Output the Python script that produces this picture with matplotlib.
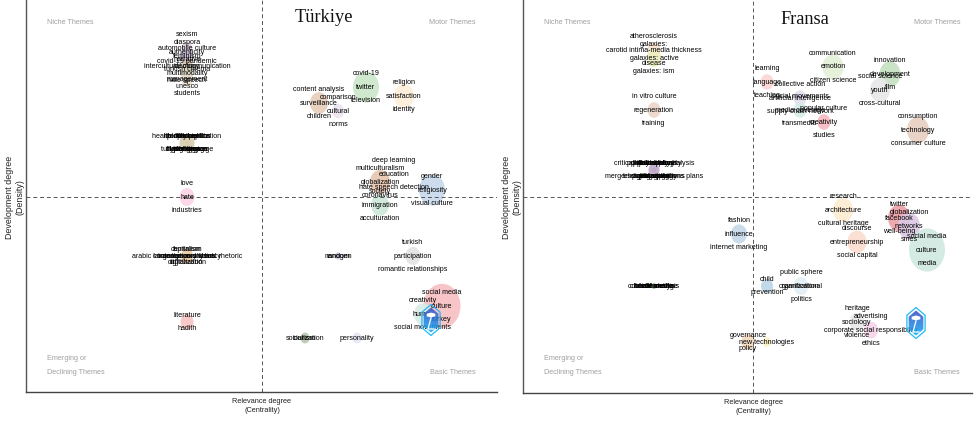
import numpy as np
import matplotlib
matplotlib.use('agg')
import matplotlib.pyplot as plt
from matplotlib.colors import LinearSegmentedColormap
from matplotlib.patches import Ellipse, Polygon

W, H = 975, 421
plt.rcParams['font.family'] = ['Liberation Sans', 'DejaVu Sans']

# Turkiye panel: one entry per cluster
tr_x = [187, 187, 187, 187, 187,
        187, 187, 187, 187, 187, 187,
        187, 187, 187, 187, 187, 187, 187, 187,
        366, 404, 319, 338, 380, 394, 380, 432,
        413, 338, 338, 442, 423, 305, 305, 357]
tr_y = [48, 56, 66, 73, 80,
        143, 143, 143, 143, 143, 143,
        197, 322, 256, 256, 256, 256, 256, 256,
        87, 96, 103, 111, 182, 174, 205, 190,
        256, 256, 256, 306, 314, 338, 338, 338]
tr_w = [10, 13, 12, 13, 11,
        15, 3, 3, 3, 3, 3,
        15, 13, 12, 3, 3, 3, 3, 3,
        26, 20, 18, 12, 20, 3, 18, 26,
        15, 6, 3, 37, 18, 9, 3, 9]
tr_color = ['#d9cbd8', '#cdbfd8', '#d8c6b4', '#ded8c0', '#e6dccb',
            '#d8ccb0', '#d8ccb0', '#d8ccb0', '#d8ccb0', '#d8ccb0', '#d8ccb0',
            '#fbd3e6', '#f7c4c4', '#e8c9a0', '#d9b98f', '#d9b98f', '#d9b98f', '#d9b98f', '#d9b98f',
            '#cbe6c8', '#fdeed9', '#e8cdbb', '#ece4f0', '#e5c6b0', '#ddd0c8', '#cde8d8', '#c8d9ec',
            '#e3e3e3', '#cfc6e0', '#cfc6e0', '#f7bfc2', '#d8ece6', '#b5c5ae', '#b5c5ae', '#e4e6f4']
tr_labels = [['sexism', 'automobile culture', 'covid-19 pandemic'],
             ['diaspora', 'feminism', 'turkish cinema'],
             ['authenticity', 'intercultural communication', 'management'],
             ['narrative', 'multimodality', 'unesco'],
             ['ideology', 'hate speech', 'students'],
             ['health communication', 'turkish language'],
             ['folklore', 'cognition'],
             ['identity politics', 'hypertension'],
             ['kinship', 'ideology'],
             ['public health', 'digital games'],
             ['risk perception', 'film language'],
             ['love', 'hate', 'industries'],
             ['literature', 'hadith'],
             ['capitalism', 'digitalization'],
             ['feminism', 'digitization'],
             ['arabic language and visual rhetoric'],
             ['contemporary art'],
             ['contemporary literacy'],
             ['translation studies'],
             ['covid-19', 'twitter', 'television'],
             ['religion', 'satisfaction', 'identity'],
             ['content analysis', 'surveillance', 'children'],
             ['comparison', 'cultural', 'norms'],
             ['multiculturalism', 'globalization', 'coronavirus'],
             ['deep learning', 'education', 'hate speech detection'],
             ['society', 'immigration', 'acculturation'],
             ['gender', 'religiosity', 'visual culture'],
             ['turkish', 'participation', 'romantic relationships'],
             ['random'],
             ['nanogen'],
             ['social media', 'culture', 'turkey'],
             ['creativity', 'humor', 'social movements'],
             ['socialization'],
             ['tourism'],
             ['personality']]

# Fransa panel
fr_x = [654, 654, 654,
        654, 654, 654, 654, 654, 654, 654,
        654, 654, 654, 654, 654, 654,
        739, 767, 801, 801, 748, 767,
        833, 890, 880, 918, 767, 800, 800, 824,
        843, 857, 899, 909, 927, 857, 871]
fr_y = [50, 58, 110,
        170, 170, 170, 170, 170, 170, 170,
        286, 286, 286, 286, 286, 286,
        234, 286, 286, 286, 342, 342,
        67, 74, 90, 130, 82, 98, 110, 122,
        210, 242, 218, 226, 250, 322, 330]
fr_w = [13, 15, 13,
        11, 3, 3, 3, 3, 3, 3,
        5, 3, 3, 3, 3, 3,
        16, 12, 15, 3, 13, 8,
        21, 21, 20, 22, 13, 13, 13, 13,
        20, 19, 22, 22, 36, 15, 14]
fr_color = ['#f7e0cc', '#eef0c0', '#ecd5c8',
            '#bfa8c8', '#bfa8c8', '#bfa8c8', '#bfa8c8', '#bfa8c8', '#bfa8c8', '#bfa8c8',
            '#8fc08a', '#8fc08a', '#8fc08a', '#8fc08a', '#8fc08a', '#8fc08a',
            '#c5d9ea', '#bcd5e8', '#e3eff6', '#e3eff6', '#f3d9bd', '#fbf0c0',
            '#e3f0d6', '#c5e0c0', '#e7e7e9', '#e7cfc0', '#fbd5d5', '#e4def0', '#d5ebe8', '#f7b8c0',
            '#fdebd0', '#fbdccd', '#eda0a8', '#dcc8e4', '#cfe9df', '#e8e8e8', '#f5d3e9']
fr_labels = [['atherosclerosis', 'carotid intima-media thickness', 'disease'],
             ['galaxies:', 'galaxies: active', 'galaxies: ism'],
             ['in vitro culture', 'regeneration', 'training'],
             ['critical discourse analysis', 'mergers and acquisitions plans'],
             ['health policy', 'public opinion'],
             ['journalism', 'migration'],
             ['politics of identity', 'telecommunications'],
             ['philosophy', 'pedagogy'],
             ['policy analysis', 'digital strategy'],
             ['public history', 'geography'],
             ['content analysis'],
             ['health media'],
             ['internet'],
             ['social media'],
             ['climate change'],
             ['black media'],
             ['fashion', 'influence', 'internet marketing'],
             ['child', 'prevention'],
             ['public sphere', 'organizational', 'politics'],
             ['gamification'],
             ['governance', 'policy'],
             ['new technologies'],
             ['communication', 'emotion', 'citizen science'],
             ['innovation', 'development', 'film'],
             ['social science', 'youth', 'cross-cultural'],
             ['consumption', 'technology', 'consumer culture'],
             ['learning', 'language', 'teaching'],
             ['collective action', 'artificial intelligence', 'supply chain network'],
             ['social movements', 'media coverage', 'transmedia'],
             ['popular culture', 'creativity', 'studies'],
             ['research', 'architecture', 'cultural heritage'],
             ['discourse', 'entrepreneurship', 'social capital'],
             ['twitter', 'facebook', 'well-being'],
             ['globalization', 'networks', 'smes'],
             ['social media', 'culture', 'media'],
             ['heritage', 'sociology', 'violence'],
             ['advertising', 'corporate social responsibility', 'ethics']]

logo_cmap = LinearSegmentedColormap.from_list('logo', ['#3f50c4', '#2a7fe0', '#0fb0f5'])


def hexagon(x, y, rx, ry):
    t = np.radians([90, 30, -30, -90, -150, 150])
    return np.column_stack([x + rx * np.cos(t), y - ry * np.sin(t)])


def add_logo(ax, x, y):
    ax.add_patch(Polygon(hexagon(x, y, 10.5, 15.5), closed=True, facecolor='none',
                         edgecolor='#22b8f5', linewidth=0.9, zorder=4))
    inner = Polygon(hexagon(x, y, 8.5, 12.5), closed=True, facecolor='none', edgecolor='none', zorder=5)
    ax.add_patch(inner)
    grad = np.linspace(0, 1, 30).reshape(-1, 1)
    img = ax.imshow(grad, cmap=logo_cmap, extent=(x - 9, x + 9, y + 13, y - 13), aspect='auto',
                    alpha=0.88, zorder=5)
    img.set_clip_path(inner)
    ax.add_patch(Polygon(hexagon(x, y - 5, 5, 2.5), closed=True, facecolor='white', edgecolor='none', zorder=6))
    ax.plot([x, x - 3, x + 3], [y - 2, y + 9, y + 9], color='white', lw=0.9, zorder=6)


def panel(left, right, bottom, mid_x, mid_y, xs, ys, ws, colors, labels, title, title_x, title_y, logo, motor_x):
    ax = fig.add_axes([left / W, 1 - bottom / H, (right - left) / W, bottom / H])
    for x, y, w, c in zip(xs, ys, ws, colors):
        ax.add_patch(Ellipse((x, y), w, w * 1.2, facecolor=c, edgecolor='none', alpha=0.9, zorder=1))
    for x, y, words in zip(xs, ys, labels):
        n = len(words)
        for i, s in enumerate(words):
            ax.text(x, y + (i - (n - 1) / 2) * 13.5, s, ha='center', va='center',
                    fontsize=5.15, color='black', zorder=3)
    ax.axvline(mid_x, color='#555555', lw=0.7, ls=(0, (4, 3)), zorder=2)
    ax.axhline(mid_y, color='#555555', lw=0.7, ls=(0, (4, 3)), zorder=2)
    add_logo(ax, logo[0], logo[1])
    ax.set_xlim(left, right)
    ax.set_ylim(bottom, 0)
    ax.set_xticks([])
    ax.set_yticks([])
    ax.spines['top'].set_visible(False)
    ax.spines['right'].set_visible(False)
    ax.spines['left'].set_color('#555555')
    ax.spines['bottom'].set_color('#444444')
    ax.spines['left'].set_linewidth(1.0)
    ax.spines['bottom'].set_linewidth(1.0)

    grey = '#a0a0a0'
    ax.text(left + 21, 22, 'Niche Themes', fontsize=5.2, color=grey, va='center')
    ax.text(motor_x, 22, 'Motor Themes', fontsize=5.2, color=grey, va='center', ha='right')
    ax.text(left + 21, 359, 'Emerging or', fontsize=5.2, color=grey, va='center')
    ax.text(left + 21, 372, 'Declining Themes', fontsize=5.2, color=grey, va='center')
    ax.text(motor_x, 372, 'Basic Themes', fontsize=5.2, color=grey, va='center', ha='right')
    ax.text(title_x, title_y, title, fontsize=13.2, family='Liberation Serif', color='#111111',
            ha='center', va='center')
    ax.text(mid_x, bottom + 14, 'Relevance degree\n(Centrality)', fontsize=5.3, color='#222222',
            ha='center', va='center', clip_on=False, linespacing=1.35)
    ax.text(left - 11, mid_y, 'Development degree\n(Density)', fontsize=6.4, color='#222222', rotation=90,
            ha='center', va='center', clip_on=False, linespacing=1.2)
    return ax


fig = plt.figure(figsize=(W / 100, H / 100), dpi=100)
panel(26, 497, 392, 262, 197, tr_x, tr_y, tr_w, tr_color, tr_labels, 'Türkiye', 324, 17, (431, 320), 476)
panel(523, 972, 393, 753, 197, fr_x, fr_y, fr_w, fr_color, fr_labels, 'Fransa', 805, 20, (916, 323), 960)
fig.savefig('out.png', dpi=100)
